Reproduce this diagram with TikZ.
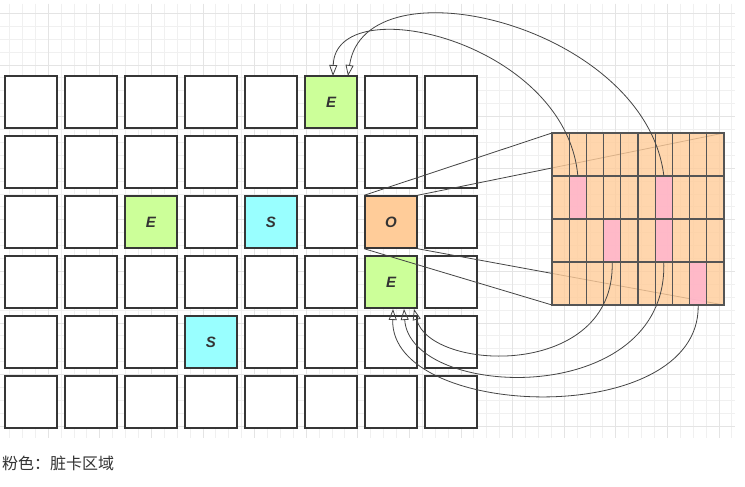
\documentclass[tikz,border=0pt]{standalone}
\usepackage{fontspec}
\setmainfont{Liberation Sans}
\newfontfamily\cjkfont{Noto Sans CJK SC}
\usetikzlibrary{arrows.meta}
\pgfdeclarelayer{bg}
\pgfdeclarelayer{behind}
\pgfsetlayers{bg,main,behind}
\definecolor{gridc}{HTML}{F0F0F0}
\definecolor{gridm}{HTML}{E4E4E4}
\definecolor{cellline}{HTML}{363636}
\definecolor{egreen}{HTML}{CCFF99}
\definecolor{scyan}{HTML}{99FFFF}
\definecolor{oorange}{HTML}{FFCC99}
\definecolor{peach}{HTML}{FFCC99}
\definecolor{pinkc}{HTML}{FFB6CC}
\definecolor{tline}{HTML}{555555}
\definecolor{edgec}{HTML}{444444}
\definecolor{txtc}{HTML}{333333}
\tikzset{
  cell/.style={draw=cellline, line width=1.5pt, fill=white, minimum width=52pt, minimum height=52pt, inner sep=0pt, font=\fontsize{15}{15}\selectfont\bfseries\itshape, text=txtc},
  tcell/.style={draw=tline, line width=1.1pt, fill=peach, fill opacity=0.8, minimum width=17.2pt, minimum height=43pt, inner sep=0pt},
  pinkcell/.style={tcell, fill=pinkc, fill opacity=0.9},
  gridline/.style={draw=gridc, line width=0.7pt},
  gridmajor/.style={draw=gridm, line width=0.7pt},
  zoomline/.style={draw=edgec, line width=0.8pt},
  curve/.style={draw=edgec, line width=0.8pt, -{Triangle[open, length=11pt, width=8pt]}},
}
\begin{document}
\begin{tikzpicture}[x=1pt,y=-1pt]
\useasboundingbox (0,0) rectangle (745,487);
\begin{pgfonlayer}{bg}
  \fill[white] (0,0) rectangle (745,487);
  \foreach \k in {0,...,56} \draw[gridline] ({9.4+12.9*\k},4) -- ({9.4+12.9*\k},438);
  \foreach \k in {0,...,32} \draw[gridline] (0,{13.3+12.9*\k}) -- (735,{13.3+12.9*\k});
  \foreach \k in {0,...,13} \draw[gridmajor] ({48.1+51.6*\k},4) -- ({48.1+51.6*\k},438);
  \foreach \k in {0,...,8} \draw[gridmajor] (0,{13.3+51.6*\k}) -- (735,{13.3+51.6*\k});
\end{pgfonlayer}
% board cells
\foreach \r in {1,...,6}
  \foreach \c in {1,...,8}
    \node[cell] (c\r\c) at ({31+60*(\c-1)},{102+60*(\r-1)}) {};
\node[cell, fill=egreen] (e1) at (c16) {E};
\node[cell, fill=egreen] (e2) at (c33) {E};
\node[cell, fill=scyan] (s1) at (c35) {S};
\node[cell, fill=oorange] (o) at (c37) {O};
\node[cell, fill=egreen] (e3) at (c47) {E};
\node[cell, fill=scyan] (s2) at (c54) {S};
% table corners
\coordinate (tTL) at (552,133);
\coordinate (tTR) at (724,133);
\coordinate (tBL) at (552,305);
\coordinate (tBR) at (724,305);
% zoom lines (above cells, below the table)
\draw[zoomline] (o.north west) -- (tTL);
\draw[zoomline] (o.north east) -- (tTR);
\draw[zoomline] (o.south west) -- (tBL);
\draw[zoomline] (o.south east) -- (tBR);
% card table
\begin{pgfonlayer}{behind}
\foreach \r in {1,...,4}
  \foreach \c in {1,...,10}
    \node[tcell] (t\r-\c) at ({552+17.2*(\c-0.5)},{133+43*(\r-0.5)}) {};
\node[pinkcell] (p1) at (t2-2) {};
\node[pinkcell] (p2) at (t2-7) {};
\node[pinkcell] (p3) at (t3-4) {};
\node[pinkcell] (p4) at (t3-7) {};
\node[pinkcell] (p5) at (t4-9) {};
% arrow targets
\coordinate (a1) at (333,76);
\coordinate (a2) at (348,76);
\coordinate (b1) at (393,309);
\coordinate (b2) at (404,309);
\coordinate (b3) at (414,309);
% curved references
\draw[curve] (p1.north) .. controls (565,40) and (335,-12) .. (a1);
\draw[curve] (p2.north) .. controls (645,25) and (365,-42) .. (a2);
\draw[curve] (p3.south) .. controls (615,380) and (430,372) .. (b3);
\draw[curve] (p4.south) .. controls (668,410) and (410,400) .. (b2);
\draw[curve] (p5.south) .. controls (700,430) and (390,420) .. (b1);
\end{pgfonlayer}
\node[anchor=base west, inner sep=0pt, text=txtc, font=\cjkfont\fontsize{16}{16}\selectfont] (cap) at (2,469) {粉色：脏卡区域};
\end{tikzpicture}
\end{document}
